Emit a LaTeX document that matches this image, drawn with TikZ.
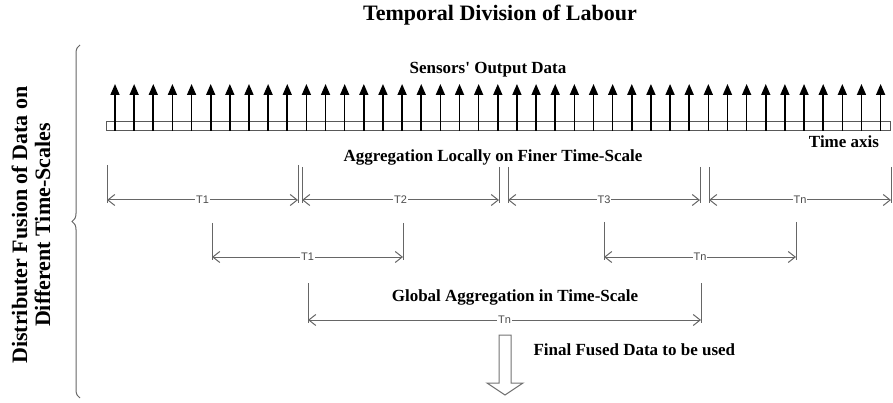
\documentclass[tikz,border=0pt]{standalone}
\usepackage{fontspec}
\setmainfont{Liberation Serif}
\setsansfont{Liberation Sans}
\usepackage{tikz}
\usetikzlibrary{
  arrows.meta,
  positioning,
  calc,
  decorations.pathreplacing
}

\tikzset{
  heading/.style={font=\fontsize{22}{23}\selectfont\bfseries},
  caption/.style={font=\fontsize{17}{19}\selectfont\bfseries},
  sensor/.style={line width=1.6pt, -{Triangle[length=11pt,width=9pt]}},
  axisbar/.style={draw=black!65, line width=1pt},
  extline/.style={draw=black!60, line width=1pt},
  dimline/.style={draw=black!60, line width=1pt,
    {Straight Barb[length=7pt,width=11pt]}-{Straight Barb[length=7pt,width=11pt]}},
  dimlabel/.style={fill=white, inner sep=1pt, text=black!70,
    font=\sffamily\fontsize{11}{11}\selectfont},
  fusearrow/.style={draw=black!55, line width=1pt, fill=white}
}

\begin{document}
\begin{tikzpicture}[x=1pt, y=-1pt]
  \useasboundingbox (0,0) rectangle (893,403);
  % titles
  \node[heading, anchor=base] (title) at (500,21) {Temporal Division of Labour};
  \node[heading, rotate=90, align=center] (side) at (31,225)
    {Distributer Fusion of Data on\\Different Time-Scales};
  % brace
  \draw[black!60, line width=1pt, decorate, decoration={brace, amplitude=8pt}]
    (80,398) -- (80,45);
  % time axis and sensor outputs
  \node[caption, anchor=base] (sensors) at (488,74) {Sensors\textquotesingle\ Output Data};
  \draw[axisbar] (106,122) rectangle (890,131);
  \foreach \i in {0,...,40} {
    \coordinate (s\i) at ({115+19.14*\i},131);
    \coordinate (t\i) at ({115+19.14*\i},84);
    \draw[sensor] (s\i) -- (t\i);
  }
  \node[caption, anchor=base] (axislabel) at (844,148) {Time axis};
  % aggregation spans
  \node[caption, anchor=base] (local) at (493,162) {Aggregation Locally on Finer Time-Scale};
  \node[caption, anchor=base] (global) at (515,301) {Global Aggregation in Time-Scale};
  \foreach \nm/\a/\b/\yt/\y/\lab in {fa/107/298/165/200/T1, fb/302/499/167/200/T2,
      fc/508/700/167/200/T3, fd/709/891/167/200/Tn, ga/212/403/223/257/T1,
      gb/604/796/222/257/Tn, ha/308/701/283/320/Tn} {
    \coordinate (\nm-tl) at (\a,\yt);
    \coordinate (\nm-bl) at (\a,\y+3);
    \coordinate (\nm-tr) at (\b,\yt);
    \coordinate (\nm-br) at (\b,\y+3);
    \coordinate (\nm-l) at (\a,\y);
    \coordinate (\nm-r) at (\b,\y);
    \draw[extline] (\nm-tl) -- (\nm-bl);
    \draw[extline] (\nm-tr) -- (\nm-br);
    \draw[dimline] (\nm-l) -- node[dimlabel] {\lab} (\nm-r);
  }
  % final output
  \draw[fusearrow] (499,335) -- (511,335) -- (511,383) -- (523,383) -- (505,395)
    -- (487,383) -- (499,383) -- cycle;
  \node[caption, anchor=base west] (final) at (530,355) {Final Fused Data to be used};
\end{tikzpicture}
\end{document}
